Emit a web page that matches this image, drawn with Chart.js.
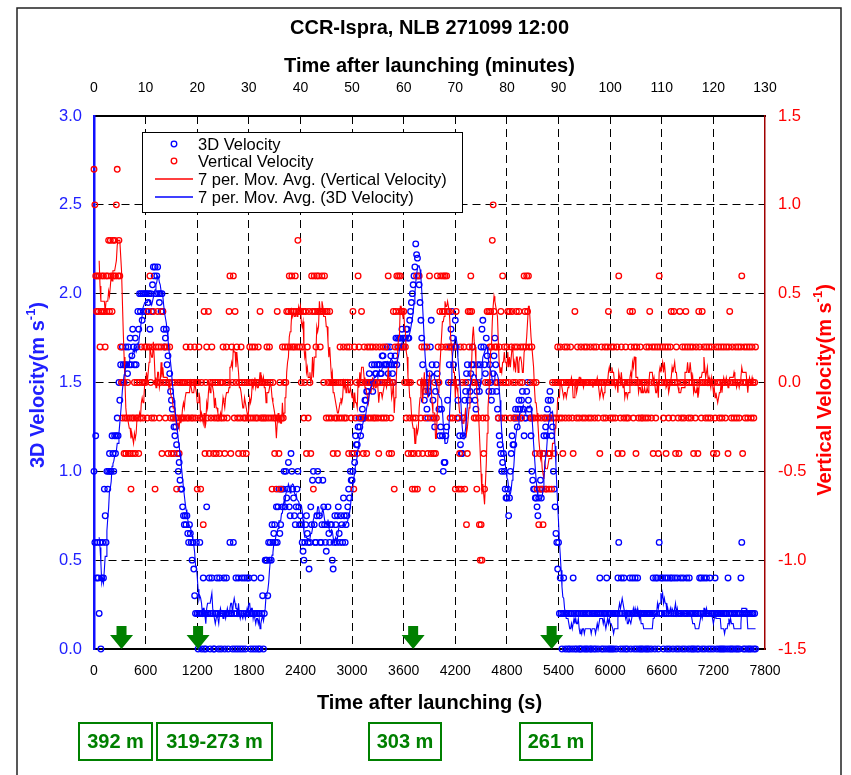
<!DOCTYPE html>
<html>
<head>
<meta charset="utf-8">
<script src="https://cdn.jsdelivr.net/npm/chart.js@4.4.1/dist/chart.umd.min.js"></script>
<style>
  html, body { margin: 0; padding: 0; background: #fff; }
  canvas { display: block; }
</style>
</head>
<body>
<canvas id="myChart" width="851" height="775"></canvas>
<script>
// sonde record, one sample every 10 s (each line below = 100 s)
var timeStep = 10

// 3D velocity (m/s)
var vel3d = [
  1.0, 0.6, 1.2, 0.4, 0.6, 0.4, 0.2, 0.6, 0.0, 0.4,
  0.6, 0.4, 0.9, 0.75, 0.6, 1.0, 0.9, 1.0, 1.1, 1.0,
  1.0, 1.2, 1.1, 1.0, 1.2, 1.1, 1.2, 1.3, 1.2, 1.5,
  1.4, 1.6, 1.5, 1.7, 1.6, 1.5, 1.6, 1.7, 1.6, 1.55,
  1.7, 1.6, 1.75, 1.6, 1.65, 1.8, 1.7, 1.6, 1.75, 1.6,
  1.7, 1.9, 1.8, 2.0, 1.9, 2.0, 1.85, 2.0, 1.9, 2.0,
  2.0, 1.9, 2.0, 1.95, 2.0, 1.8, 2.0, 1.9, 2.05, 2.15,
  2.1, 2.15, 2.0, 2.1, 2.15, 2.0, 1.95, 2.0, 1.9, 2.0,
  1.9, 1.8, 1.7, 1.75, 1.8, 1.6, 1.65, 1.5, 1.55, 1.45,
  1.4, 1.35, 1.3, 1.25, 1.2, 1.25, 1.15, 1.1, 1.0, 1.05,
  0.95, 0.9, 0.9, 0.8, 0.75, 0.7, 0.75, 0.7, 0.75, 0.65,
  0.6, 0.7, 0.65, 0.6, 0.5, 0.6, 0.45, 0.3, 0.2, 0.6,
  0.2, 0.0, 0.2, 0.6, 0.2, 0.0, 0.2, 0.4, 0.0, 0.2,
  0.0, 0.8, 0.2, 0.2, 0.4, 0.0, 0.2, 0.4, 0.2, 0.0,
  0.0, 0.2, 0.2, 0.4, 0.2, 0.0, 0.4, 0.2, 0.0, 0.2,
  0.2, 0.4, 0.0, 0.2, 0.4, 0.2, 0.0, 0.2, 0.6, 0.2,
  0.2, 0.0, 0.6, 0.2, 0.0, 0.4, 0.2, 0.0, 0.4, 0.2,
  0.0, 0.2, 0.4, 0.0, 0.2, 0.4, 0.0, 0.2, 0.4, 0.2,
  0.4, 0.2, 0.0, 0.2, 0.2, 0.0, 0.4, 0.2, 0.0, 0.2,
  0.2, 0.0, 0.2, 0.0, 0.4, 0.2, 0.3, 0.0, 0.2, 0.5,
  0.5, 0.5, 0.3, 0.6, 0.5, 0.6, 0.5, 0.7, 0.6, 0.65,
  0.7, 0.6, 0.8, 0.6, 0.8, 0.9, 0.65, 0.7, 0.9, 0.8,
  0.9, 1.0, 0.8, 1.0, 0.85, 0.9, 1.05, 0.8, 0.75, 1.1,
  1.0, 0.9, 0.85, 0.75, 0.7, 0.8, 0.9, 1.0, 0.8, 0.7,
  0.75, 0.7, 0.6, 0.55, 0.5, 0.6, 0.7, 0.75, 0.65, 0.6,
  0.45, 0.6, 0.8, 0.7, 0.95, 1.0, 0.7, 0.6, 0.6, 0.75,
  1.0, 0.95, 0.75, 0.6, 0.6, 0.7, 0.95, 0.8, 0.7, 0.6,
  0.55, 0.7, 0.8, 0.65, 0.6, 0.7, 0.7, 0.5, 0.45, 0.6,
  0.75, 0.7, 0.6, 0.75, 0.8, 0.65, 0.6, 0.75, 0.7, 0.6,
  0.85, 0.75, 0.6, 0.7, 0.75, 0.8, 0.9, 0.85, 1.0, 0.95,
  0.95, 1.0, 1.1, 1.05, 1.2, 1.15, 1.15, 1.25, 1.3, 1.25,
  1.2, 1.3, 1.35, 1.3, 1.3, 1.4, 1.4, 1.45, 1.45, 1.5,
  1.55, 1.5, 1.5, 1.6, 1.45, 1.5, 1.6, 1.55, 1.55, 1.6,
  1.5, 1.6, 1.6, 1.55, 1.55, 1.65, 1.65, 1.6, 1.5, 1.6,
  1.6, 1.7, 1.55, 1.6, 1.7, 1.65, 1.6, 1.55, 1.5, 1.6,
  1.65, 1.75, 1.6, 1.75, 1.7, 1.75, 1.75, 1.7, 1.8, 1.75,
  1.7, 1.75, 1.75, 1.8, 1.8, 1.75, 1.75, 1.85, 1.9, 1.95,
  2.0, 2.05, 2.1, 2.15, 2.28, 2.22, 2.2, 2.1, 2.05, 1.95,
  1.85, 1.75, 1.6, 1.5, 1.4, 1.45, 1.5, 1.35, 1.3, 1.45,
  1.55, 1.7, 1.85, 1.6, 1.4, 1.3, 1.25, 1.45, 1.6, 1.55,
  1.5, 1.35, 1.2, 1.25, 1.35, 1.2, 1.0, 1.05, 1.05, 1.2,
  1.25, 1.4, 1.5, 1.6, 1.7, 1.8, 1.9, 1.75, 1.6, 1.7,
  1.85, 1.7, 1.5, 1.4, 1.3, 1.2, 1.15, 1.1, 1.1, 1.2,
  1.3, 1.4, 1.45, 1.55, 1.6, 1.5, 1.4, 1.45, 1.55, 1.6,
  1.7, 1.6, 1.5, 1.4, 1.35, 1.45, 1.6, 1.5, 1.45, 1.6,
  1.7, 1.8, 1.85, 1.7, 1.6, 1.55, 1.75, 1.65, 1.5, 1.45,
  1.6, 1.5, 1.4, 1.45, 1.55, 1.65, 1.75, 1.6, 1.45, 1.35,
  1.3, 1.2, 1.15, 1.1, 1.0, 1.05, 1.1, 1.0, 0.9, 0.85,
  0.85, 0.9, 0.75, 0.85, 1.0, 1.1, 1.2, 1.15, 1.15, 1.3,
  1.35, 1.3, 1.25, 1.35, 1.4, 1.35, 1.3, 1.4, 1.45, 1.35,
  1.2, 1.3, 1.3, 1.45, 1.5, 1.4, 1.35, 1.3, 1.2, 1.0,
  0.95, 0.9, 0.9, 0.85, 0.85, 0.8, 0.75, 0.85, 0.9, 0.95,
  0.85, 0.9, 1.1, 1.2, 1.3, 1.25, 1.2, 1.35, 1.4, 1.3,
  1.45, 1.4, 1.2, 1.25, 1.0, 0.9, 0.8, 0.65, 0.6, 0.45,
  0.6, 0.2, 0.4, 0.2, 0.0, 0.2, 0.4, 0.2, 0.0, 0.2,
  0.2, 0.0, 0.2, 0.0, 0.2, 0.2, 0.0, 0.4, 0.2, 0.0,
  0.2, 0.0, 0.2, 0.2, 0.0, 0.0, 0.2, 0.0, 0.2, 0.2,
  0.0, 0.2, 0.0, 0.2, 0.0, 0.2, 0.2, 0.0, 0.0, 0.2,
  0.2, 0.0, 0.2, 0.0, 0.2, 0.2, 0.0, 0.2, 0.4, 0.2,
  0.0, 0.2, 0.0, 0.2, 0.2, 0.0, 0.4, 0.2, 0.0, 0.2,
  0.0, 0.2, 0.0, 0.2, 0.0, 0.2, 0.2, 0.0, 0.2, 0.4,
  0.6, 0.2, 0.0, 0.4, 0.2, 0.0, 0.4, 0.2, 0.0, 0.2,
  0.0, 0.2, 0.2, 0.4, 0.0, 0.2, 0.4, 0.2, 0.0, 0.4,
  0.2, 0.0, 0.4, 0.2, 0.0, 0.2, 0.0, 0.2, 0.0, 0.2,
  0.2, 0.0, 0.2, 0.0, 0.2, 0.0, 0.2, 0.2, 0.0, 0.2,
  0.4, 0.2, 0.0, 0.4, 0.2, 0.4, 0.0, 0.6, 0.2, 0.4,
  0.2, 0.4, 0.0, 0.2, 0.4, 0.2, 0.0, 0.4, 0.2, 0.0,
  0.4, 0.2, 0.4, 0.0, 0.2, 0.4, 0.2, 0.0, 0.4, 0.2,
  0.0, 0.2, 0.4, 0.2, 0.0, 0.4, 0.2, 0.0, 0.2, 0.4,
  0.2, 0.0, 0.4, 0.2, 0.0, 0.2, 0.0, 0.2, 0.0, 0.2,
  0.2, 0.0, 0.2, 0.0, 0.4, 0.2, 0.4, 0.0, 0.2, 0.4,
  0.0, 0.2, 0.4, 0.2, 0.0, 0.2, 0.4, 0.0, 0.2, 0.2,
  0.0, 0.2, 0.4, 0.2, 0.0, 0.2, 0.2, 0.0, 0.2, 0.0,
  0.2, 0.0, 0.2, 0.0, 0.2, 0.2, 0.0, 0.4, 0.2, 0.0,
  0.2, 0.0, 0.2, 0.0, 0.2, 0.2, 0.0, 0.2, 0.0, 0.2,
  0.0, 0.2, 0.4, 0.6, 0.2, 0.0, 0.2, 0.0, 0.2, 0.2,
  0.0, 0.2, 0.0, 0.2, 0.0, 0.2, 0.2, 0.0, 0.2, 0.0
]

// vertical velocity (m/s)
var velVert = [
  1.2, 1.0, 0.6, 0.4, 0.6, 0.4, 0.6, 0.2, 0.4, 0.6,
  0.4, 0.6, 0.4, 0.2, 0.6, 0.4, 0.6, 0.8, 0.4, 0.8,
  0.6, 0.4, 0.8, 0.6, 0.8, 0.6, 1.0, 1.2, 0.6, 0.8,
  0.6, 0.2, 0.0, -0.2, 0.0, -0.4, -0.2, -0.4, -0.2, 0.0,
  -0.4, -0.2, -0.4, -0.6, -0.2, -0.4, -0.2, 0.0, -0.4, -0.2,
  0.0, -0.2, -0.4, 0.0, -0.2, 0.2, 0.0, -0.2, 0.0, 0.2,
  0.0, 0.2, -0.2, 0.4, 0.2, 0.6, 0.0, -0.2, 0.2, 0.4,
  -0.2, -0.6, 0.2, 0.0, 0.4, 0.2, -0.2, 0.0, 0.2, -0.4,
  0.4, 0.0, 0.2, -0.2, 0.0, 0.2, -0.4, 0.0, 0.2, -0.2,
  -0.4, 0.0, -0.2, -0.4, 0.0, -0.2, -0.6, -0.2, 0.0, -0.4,
  0.0, -0.2, 0.0, -0.2, 0.0, -0.2, 0.0, 0.2, -0.2, 0.0,
  -0.2, 0.0, 0.2, -0.2, 0.0, -0.2, 0.0, 0.2, -0.2, 0.0,
  -0.6, 0.0, 0.2, -0.2, -0.6, 0.0, -0.2, -0.8, 0.4, -0.4,
  0.0, 0.2, -0.2, 0.4, -0.4, 0.0, -0.2, 0.2, 0.0, -0.4,
  -0.2, 0.0, -0.4, -0.2, 0.0, -0.2, -0.4, 0.0, -0.2, 0.0,
  0.2, -0.2, -0.4, 0.0, 0.2, -0.2, 0.0, 0.4, 0.6, -0.4,
  0.2, 0.0, 0.6, -0.2, 0.4, 0.0, 0.2, -0.2, -0.4, 0.0,
  -0.2, 0.2, 0.0, -0.4, -0.2, 0.0, -0.2, -0.4, 0.0, -0.2,
  0.0, 0.2, -0.2, 0.0, 0.2, -0.2, 0.0, 0.2, -0.2, 0.0,
  -0.2, 0.2, 0.0, 0.4, -0.2, 0.0, -0.2, 0.0, -0.2, 0.0,
  -0.2, 0.2, 0.0, -0.2, 0.2, 0.0, -0.2, -0.6, 0.0, -0.2,
  -0.4, -0.2, -0.6, 0.4, -0.2, -0.4, 0.0, -0.6, -0.2, 0.2,
  -0.2, 0.0, 0.2, 0.0, 0.4, 0.2, 0.4, 0.6, 0.2, 0.4,
  0.6, 0.2, 0.4, 0.2, 0.6, 0.4, 0.2, 0.8, 0.4, 0.2,
  0.4, 0.0, 0.2, 0.4, -0.2, 0.0, 0.4, -0.4, 0.2, -0.2,
  0.4, 0.0, -0.4, 0.6, 0.4, -0.6, 0.6, 0.4, 0.2, 0.6,
  0.4, 0.6, 0.4, 0.2, 0.4, 0.6, 0.4, 0.0, 0.6, 0.4,
  -0.2, 0.4, 0.0, -0.2, 0.4, 0.0, -0.2, 0.0, -0.4, 0.0,
  -0.2, 0.0, -0.2, -0.4, 0.0, -0.2, 0.2, 0.0, -0.2, 0.0,
  0.2, -0.2, 0.0, -0.2, 0.2, 0.0, -0.4, 0.2, 0.0, -0.2,
  -0.4, 0.4, -0.6, 0.2, -0.2, 0.0, -0.4, 0.6, 0.2, 0.0,
  -0.2, 0.4, 0.0, -0.4, 0.2, -0.2, 0.0, -0.4, 0.2, -0.2,
  0.0, 0.2, -0.2, 0.0, 0.2, -0.2, 0.0, -0.2, 0.2, 0.0,
  -0.2, -0.4, 0.2, 0.0, -0.2, 0.0, 0.2, -0.2, 0.0, 0.2,
  -0.2, 0.0, 0.6, -0.4, 0.0, -0.2, -0.4, 0.0, 0.4, -0.6,
  0.2, 0.4, 0.6, 0.2, 0.6, 0.4, 0.6, 0.2, 0.4, 0.2,
  0.4, 0.0, 0.2, -0.2, 0.0, -0.4, 0.0, -0.2, 0.0, -0.4,
  -0.6, -0.2, -0.4, -0.6, -0.2, 0.6, -0.6, -0.4, 0.6, 0.0,
  -0.2, 0.2, -0.4, 0.0, 0.2, -0.2, 0.0, 0.2, -0.4, 0.0,
  0.6, -0.2, -0.4, -0.6, -0.2, -0.4, 0.0, -0.4, -0.2, 0.6,
  0.2, 0.0, 0.4, 0.6, 0.2, 0.4, 0.6, 0.4, 0.6, 0.2,
  0.6, 0.4, 0.2, 0.4, -0.2, 0.0, 0.2, -0.2, 0.0, 0.2,
  -0.6, 0.4, -0.2, 0.0, -0.6, -0.4, 0.2, -0.6, 0.0, -0.2,
  0.2, -0.6, 0.0, -0.8, -0.4, 0.4, 0.2, 0.4, 0.6, 0.4,
  0.2, 0.0, -0.2, 0.0, -0.2, -0.6, 0.0, -0.2, -0.8, -1.0,
  -0.8, -1.0, -0.2, -0.4, -0.6, 0.0, -0.2, 0.4, 0.0, 0.4,
  0.2, 0.4, 0.2, 0.8, 1.0, 0.4, 0.2, 0.0, 0.2, 0.0,
  -0.2, 0.2, 0.0, 0.4, -0.2, 0.6, 0.0, 0.2, -0.2, 0.0,
  0.2, 0.4, 0.0, 0.4, -0.2, 0.2, 0.4, 0.0, -0.2, 0.2,
  0.0, 0.4, 0.2, -0.2, 0.4, 0.0, 0.2, -0.2, 0.0, 0.2,
  0.6, 0.4, 0.2, 0.6, 0.4, 0.6, 0.2, 0.0, -0.2, 0.2,
  -0.2, 0.0, -0.2, -0.4, 0.0, -0.6, -0.2, -0.8, -0.4, -0.6,
  -0.2, -0.6, -0.8, -0.4, -0.2, -0.6, -0.6, -0.2, -0.4, -0.6,
  -0.4, -0.2, -0.6, 0.0, -0.2, -0.4, 0.0, -0.2, 0.0, 0.2,
  0.0, -0.2, 0.2, 0.0, -0.2, -0.4, 0.0, 0.2, -0.2, 0.0,
  0.2, 0.0, -0.2, 0.0, 0.2, 0.0, -0.2, -0.4, 0.0, 0.4,
  0.0, -0.2, 0.2, 0.0, -0.2, 0.0, 0.2, 0.0, -0.2, 0.0,
  0.2, -0.2, 0.0, 0.2, 0.0, -0.2, 0.0, 0.2, -0.2, 0.0,
  0.0, 0.2, -0.2, 0.0, 0.2, 0.0, -0.2, 0.0, -0.4, 0.0,
  0.2, 0.0, -0.2, 0.0, 0.2, -0.2, 0.0, 0.2, 0.4, 0.0,
  -0.2, 0.2, 0.0, -0.2, 0.2, 0.0, -0.2, 0.0, 0.2, -0.4,
  0.6, 0.0, -0.2, 0.2, -0.4, 0.0, -0.2, 0.0, 0.2, -0.2,
  0.0, -0.2, 0.0, 0.4, 0.2, 0.0, 0.4, -0.2, 0.2, 0.0,
  -0.4, 0.2, 0.0, -0.2, 0.0, 0.2, -0.2, 0.0, -0.2, 0.0,
  0.0, -0.2, 0.2, 0.0, -0.2, 0.2, 0.4, 0.0, -0.2, 0.2,
  -0.4, 0.0, 0.2, -0.2, 0.0, 0.2, -0.4, 0.6, 0.2, 0.0,
  0.0, 0.2, -0.2, 0.0, 0.2, -0.4, 0.0, 0.2, -0.2, 0.0,
  0.2, 0.4, 0.0, -0.2, 0.4, 0.0, -0.4, 0.2, 0.0, -0.2,
  -0.4, 0.4, 0.0, -0.2, 0.2, 0.0, -0.2, 0.2, 0.4, 0.0,
  0.2, -0.2, 0.0, 0.2, -0.2, 0.0, 0.2, -0.4, 0.0, -0.2,
  0.2, 0.0, -0.4, 0.4, 0.2, 0.0, -0.2, 0.4, 0.0, 0.2,
  0.0, -0.2, 0.2, 0.0, -0.2, 0.2, 0.0, -0.2, 0.2, 0.0,
  -0.4, 0.0, -0.2, 0.2, -0.4, 0.0, 0.2, -0.2, 0.0, 0.2,
  -0.2, 0.0, 0.2, 0.0, -0.2, 0.2, 0.0, -0.4, 0.2, 0.4,
  0.0, -0.2, 0.2, 0.0, -0.2, 0.0, 0.2, -0.2, 0.0, 0.2,
  -0.2, 0.0, 0.2, 0.6, -0.4, 0.0, 0.2, -0.2, 0.0, 0.2,
  -0.2, 0.0, 0.2, 0.0, -0.2, 0.2, 0.0, -0.2, 0.0, 0.2
]

// axes
var secMax = 7800, secStep = 600
var minMax = 130, minStep = 10
var v3dMax = 3.0, vertMin = -1.5, vertMax = 1.5, vStep = 0.5

// balloon altitude marks (s after launch) and their labels
var arrowTimes = [320, 1210, 3710, 5320]
var heightLabels = ['392 m', '319-273 m', '303 m', '261 m']

var legendLabels = ['3D Velocity', 'Vertical Velocity', '7 per. Mov. Avg. (Vertical Velocity)', '7 per. Mov. Avg. (3D Velocity)']
var maPeriod = 7

var FONT = '"Liberation Sans", Arial, sans-serif'
var BLUE = '#0000ff', RED = '#ff0000', GREEN = '#008000'
// label boxes under the axis (pixel layout)
var boxLayout = [[79, 152], [157, 272], [369, 441], [520, 592]]

var times = vel3d.map((v, i) => i * timeStep)

function points(vals) {
  return vals.map((v, i) => ({ x: times[i], y: v }))
}

// Excel-style trailing moving average
function movAvg(vals, n) {
  var out = []
  for (let i = n - 1; i < vals.length; i++) {
    let s = 0
    for (let k = i - n + 1; k <= i; k++) s += vals[k]
    out.push({ x: times[i], y: s / n })
  }
  return out
}

function vTitle(ctx, text, sup, close, x, y, color) {
  ctx.save()
  ctx.translate(x, y)
  ctx.rotate(-Math.PI / 2)
  ctx.fillStyle = color
  ctx.textBaseline = 'middle'
  var big = 'bold 20px ' + FONT, small = 'bold 13px ' + FONT
  ctx.font = big
  var w1 = ctx.measureText(text).width, w3 = ctx.measureText(close).width
  ctx.font = small
  var w2 = ctx.measureText(sup).width
  var px = -(w1 + w2 + w3) / 2
  ctx.font = big; ctx.fillText(text, px, 0); px += w1
  ctx.font = small; ctx.fillText(sup, px, -7); px += w2
  ctx.font = big; ctx.fillText(close, px, 0)
  ctx.restore()
}

const decorations = {
  id: 'decorations',
  afterDatasetsDraw(chart) {
    const ctx = chart.ctx, xs = chart.scales.x, a = chart.chartArea
    // green arrows
    ctx.save()
    ctx.fillStyle = GREEN
    arrowTimes.forEach(t => {
      const cx = xs.getPixelForValue(t), b = a.bottom
      ctx.beginPath()
      ctx.moveTo(cx - 5, b - 23)
      ctx.lineTo(cx + 5, b - 23)
      ctx.lineTo(cx + 5, b - 14)
      ctx.lineTo(cx + 11.5, b - 14)
      ctx.lineTo(cx, b)
      ctx.lineTo(cx - 11.5, b - 14)
      ctx.lineTo(cx - 5, b - 14)
      ctx.closePath()
      ctx.fill()
    })
    ctx.restore()

    // legend box
    const L = a.left + 48, T = a.top + 16, W = 320, H = 80
    ctx.save()
    ctx.fillStyle = '#fff'
    ctx.fillRect(L, T, W, H)
    ctx.strokeStyle = '#000'
    ctx.lineWidth = 1
    ctx.strokeRect(L + 0.5, T + 0.5, W, H)
    ctx.font = '16.5px ' + FONT
    ctx.textBaseline = 'middle'
    ctx.fillStyle = '#000'
    const rows = [T + 12, T + 29, T + 47, T + 65]
    legendLabels.forEach((lab, i) => {
      const y = rows[i]
      ctx.lineWidth = 1.3
      if (i < 2) {
        ctx.strokeStyle = i === 0 ? BLUE : RED
        ctx.beginPath()
        ctx.arc(L + 32, y, 2.8, 0, Math.PI * 2)
        ctx.stroke()
      } else {
        ctx.strokeStyle = i === 2 ? RED : BLUE
        ctx.beginPath()
        ctx.moveTo(L + 13, y)
        ctx.lineTo(L + 51, y)
        ctx.stroke()
      }
      ctx.fillText(lab, L + 56, y + 1)
    })
    ctx.restore()
  },
  afterDraw(chart) {
    const ctx = chart.ctx, a = chart.chartArea
    const cx = (a.left + a.right) / 2
    ctx.save()
    // outer frame
    ctx.strokeStyle = '#222'
    ctx.lineWidth = 1.5
    ctx.beginPath()
    ctx.moveTo(17, 775); ctx.lineTo(17, 8); ctx.lineTo(841, 8); ctx.lineTo(841, 775)
    ctx.stroke()

    ctx.fillStyle = '#000'
    ctx.textAlign = 'center'
    ctx.textBaseline = 'middle'
    ctx.font = 'bold 20px ' + FONT
    ctx.fillText('CCR-Ispra, NLB 271099 12:00', cx, 28)
    ctx.fillText('Time after launching (minutes)', cx, 66)
    ctx.fillText('Time after launching (s)', cx, 703)

    // altitude boxes
    ctx.strokeStyle = GREEN
    ctx.fillStyle = GREEN
    ctx.lineWidth = 2
    heightLabels.forEach((lab, i) => {
      const [x0, x1] = boxLayout[i]
      ctx.strokeRect(x0, 723, x1 - x0, 37)
      ctx.fillText(lab, (x0 + x1) / 2, 742)
    })
    ctx.restore()

    vTitle(ctx, '3D Velocity(m s', '-1', ')', 38, 385, '#2020ff')
    vTitle(ctx, 'Vertical Velocity(m s', '-1', ')', 825, 390, RED)
  }
}

const dash = [8, 5]
// no dashed grid line on top of the frame itself
function innerGrid(max) {
  return c => (c.tick && (c.tick.value === 0 || c.tick.value === max)) ? 'rgba(0,0,0,0)' : '#000'
}

const ctx = document.getElementById('myChart').getContext('2d')
Chart.defaults.font.family = FONT

const myChart = new Chart(ctx, {
  type: 'scatter',
  data: {
    datasets: [
      {
        label: legendLabels[3],
        data: movAvg(vel3d, maPeriod),
        yAxisID: 'y',
        showLine: true,
        borderColor: BLUE,
        borderWidth: 1.1,
        pointRadius: 0,
        order: 0
      },
      {
        label: legendLabels[2],
        data: movAvg(velVert, maPeriod),
        yAxisID: 'yR',
        showLine: true,
        borderColor: RED,
        borderWidth: 1.1,
        pointRadius: 0,
        order: 1
      },
      {
        label: legendLabels[1],
        data: points(velVert),
        yAxisID: 'yR',
        borderColor: RED,
        backgroundColor: 'rgba(0,0,0,0)',
        borderWidth: 1.3,
        pointRadius: 2.8,
        clip: false,
        order: 2
      },
      {
        label: legendLabels[0],
        data: points(vel3d),
        yAxisID: 'y',
        borderColor: BLUE,
        backgroundColor: 'rgba(0,0,0,0)',
        borderWidth: 1.3,
        pointRadius: 2.8,
        clip: false,
        order: 3
      }
    ]
  },
  options: {
    responsive: false,
    animation: false,
    events: [],
    layout: { padding: 0 },
    plugins: { legend: { display: false }, tooltip: { enabled: false } },
    scales: {
      x: {
        type: 'linear', position: 'bottom', min: 0, max: secMax,
        afterFit: s => { s.height = 126 },
        ticks: { stepSize: secStep, color: '#000', font: { size: 14 }, padding: 14, maxRotation: 0, callback: v => String(v) },
        grid: { color: innerGrid(secMax), lineWidth: 1, drawTicks: false },
        border: { display: true, color: '#000', width: 2, dash: dash }
      },
      x2: {
        type: 'linear', position: 'top', min: 0, max: minMax,
        afterFit: s => { s.height = 116 },
        ticks: { stepSize: minStep, color: '#000', font: { size: 14 }, padding: 19.5, maxRotation: 0, callback: v => String(v) },
        grid: { display: false, drawTicks: false },
        border: { display: true, color: '#000', width: 2 }
      },
      y: {
        type: 'linear', position: 'left', min: 0, max: v3dMax,
        afterFit: s => { s.width = 94 },
        ticks: { stepSize: vStep, color: '#2020ff', font: { size: 16.5 }, padding: 12, callback: v => v.toFixed(1) },
        grid: { color: innerGrid(v3dMax), lineWidth: 1, drawTicks: false },
        border: { display: true, color: '#1010ff', width: 2.5, dash: dash }
      },
      yR: {
        type: 'linear', position: 'right', min: vertMin, max: vertMax,
        afterFit: s => { s.width = 86 },
        ticks: { stepSize: vStep, color: RED, font: { size: 16.5 }, padding: 13, callback: v => v.toFixed(1) },
        grid: { display: false, drawTicks: false },
        border: { display: true, color: '#a00000', width: 1.5 }
      }
    }
  },
  plugins: [decorations]
})
</script>
</body>
</html>
